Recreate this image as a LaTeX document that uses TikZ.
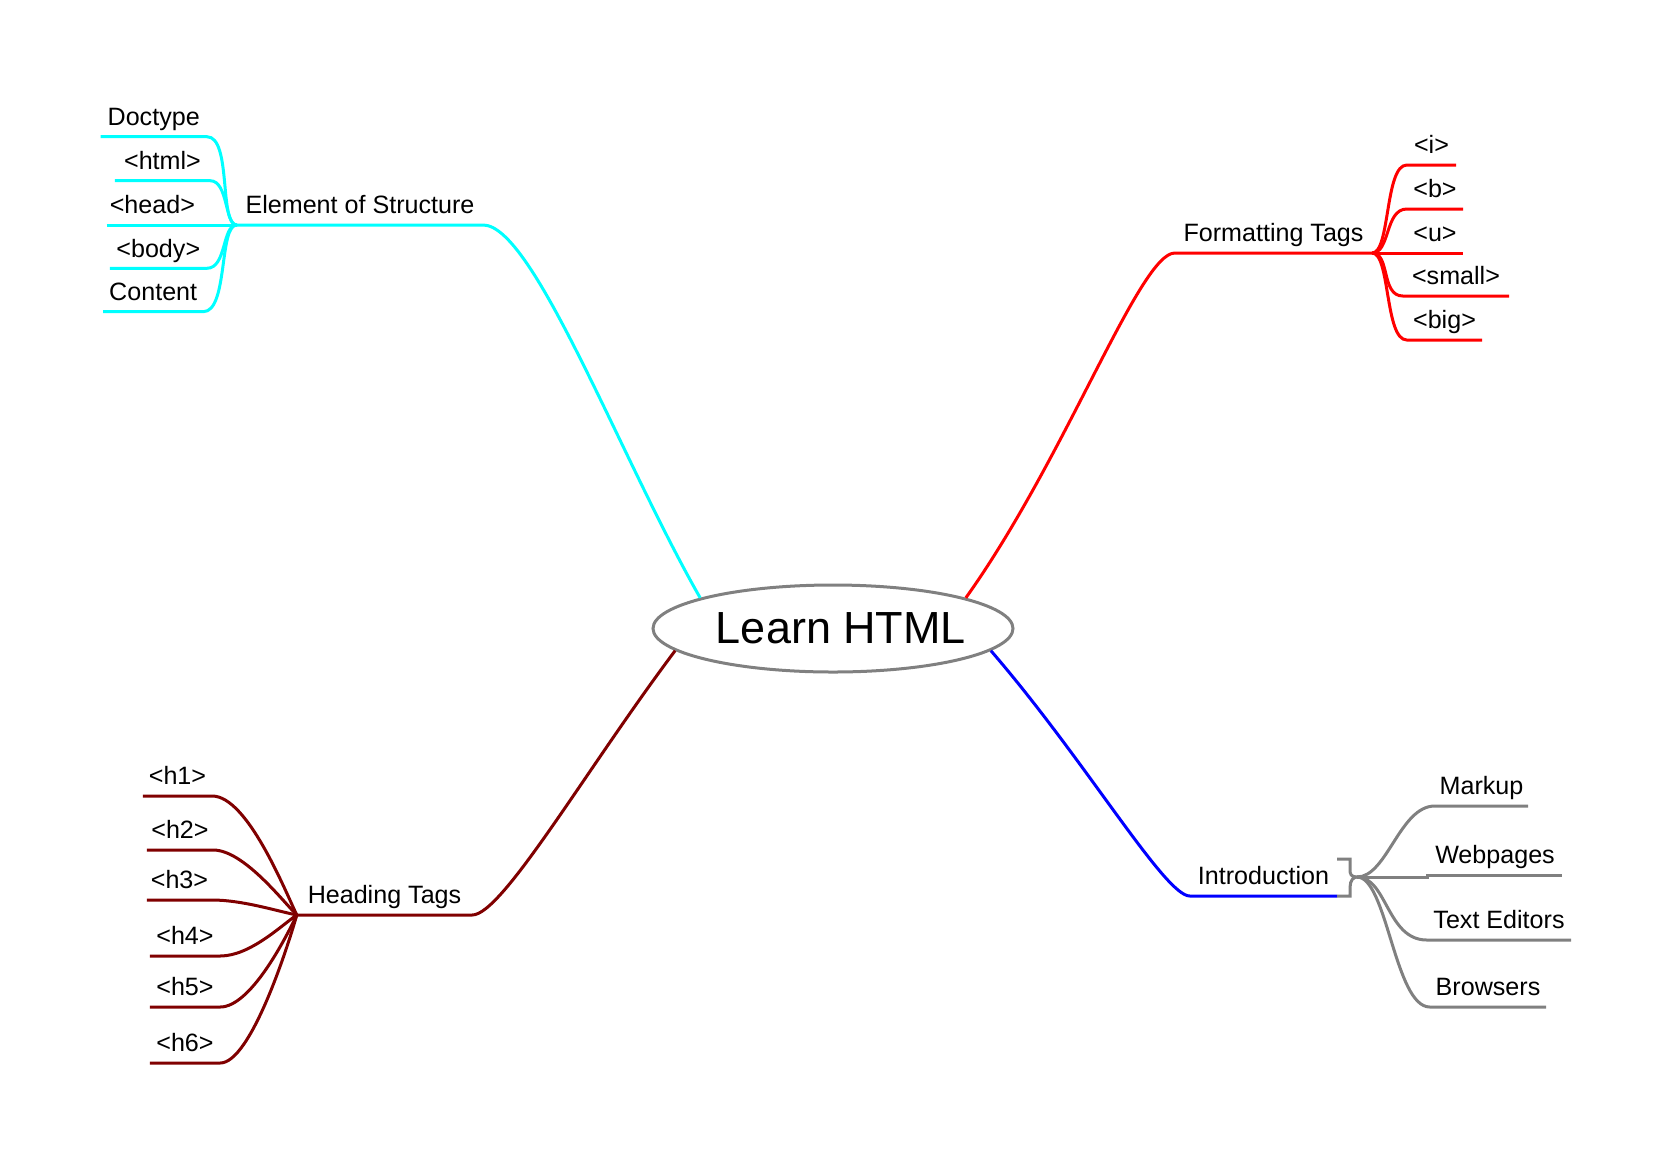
\documentclass[tikz,border=0pt]{standalone}
\usepackage{fontspec}
\setmainfont{Liberation Sans}
\usepackage{tikz}
\usetikzlibrary{shapes}
\definecolor{brcyan}{RGB}{0,255,255}
\definecolor{brred}{RGB}{255,0,0}
\definecolor{brmaroon}{RGB}{128,0,0}
\definecolor{brblue}{RGB}{0,0,255}
\definecolor{brgray}{RGB}{128,128,128}

\begin{document}
\begin{tikzpicture}[
    x=1pt, y=-1pt,
    root/.style={ellipse, draw=brgray, line width=3pt, minimum width=360pt, minimum height=87pt, inner sep=0pt},
    title/.style={inner sep=0pt, font=\fontsize{45}{52}\selectfont},
    leaf/.style={anchor=south, inner xsep=0pt, inner ysep=5pt, text height=18pt, text depth=6pt, minimum width=#1, font=\fontsize{25.1}{29}\selectfont},
    branch/.style={line width=3pt, draw=#1}
]
    \useasboundingbox (0,0) rectangle (1672,1163);

    \node[root] (html) at (833,628.5) {};
    \node[title] (ttl) at (841,628.5) {Learn HTML};

    \node[leaf=246pt] (eos) at (360,225) {Element of Structure};
    \node[leaf=197pt] (fmt) at (1273.5,253) {Formatting Tags};
    \node[leaf=175pt] (hdg) at (384.5,915) {Heading Tags};
    \node[leaf=147pt] (intro) at (1263.5,896) {Introduction};

    \node[leaf=106pt] (doc) at (153.7,136.7) {Doctype};
    \node[leaf=95pt] (htm) at (162.5,180.7) {<html>};
    \node[leaf=91.3pt] (head) at (152.4,225) {<head>};
    \node[leaf=96.7pt] (body) at (158.3,268.3) {<body>};
    \node[leaf=99.7pt] (cont) at (153.2,311.7) {Content};

    \node[leaf=49pt] (ti) at (1431.5,165) {<i>};
    \node[leaf=56pt] (tb) at (1435,209) {<b>};
    \node[leaf=56pt] (tu) at (1435,253) {<u>};
    \node[leaf=106pt] (tsmall) at (1456,296) {<small>};
    \node[leaf=75pt] (tbig) at (1444.5,340) {<big>};

    \node[leaf=69pt] (h1) at (177.5,796) {<h1>};
    \node[leaf=66pt] (h2) at (180,850) {<h2>};
    \node[leaf=65pt] (h3) at (179.5,900) {<h3>};
    \node[leaf=70pt] (h4) at (185,956) {<h4>};
    \node[leaf=70pt] (h5) at (185,1007) {<h5>};
    \node[leaf=70pt] (h6) at (185,1063) {<h6>};

    \node[leaf=93pt] (mk) at (1481.5,806) {Markup};
    \node[leaf=134pt] (wp) at (1495,875) {Webpages};
    \node[leaf=144pt] (te) at (1499,940) {Text Editors};
    \node[leaf=116pt] (bro) at (1488,1007) {Browsers};
    \coordinate (ihub) at (1357,877);

    \draw[branch=brcyan] (eos.south west) -- (eos.south east) .. controls +(50,0) and +(-80,-140) .. (html.167);
    \draw[branch=brcyan] (doc.south west) -- (doc.south east) .. controls +(25,0) and +(-18,0) .. (eos.south west);
    \draw[branch=brcyan] (htm.south west) -- (htm.south east) .. controls +(18,0) and +(-12,0) .. (eos.south west);
    \draw[branch=brcyan] (head.south west) -- (eos.south west);
    \draw[branch=brcyan] (body.south west) -- (body.south east) .. controls +(20,0) and +(-15,0) .. (eos.south west);
    \draw[branch=brcyan] (cont.south west) -- (cont.south east) .. controls +(25,0) and +(-18,0) .. (eos.south west);

    \draw[branch=brred] (html.13) .. controls +(100,-140) and +(-35,0) .. (fmt.south west) -- (fmt.south east);
    \draw[branch=brred] (fmt.south east) .. controls +(18,0) and +(-22,0) .. (ti.south west) -- (ti.south east);
    \draw[branch=brred] (fmt.south east) .. controls +(18,0) and +(-22,0) .. (tb.south west) -- (tb.south east);
    \draw[branch=brred] (fmt.south east) -- (tu.south west) -- (tu.south east);
    \draw[branch=brred] (fmt.south east) .. controls +(18,0) and +(-22,0) .. (tsmall.south west) -- (tsmall.south east);
    \draw[branch=brred] (fmt.south east) .. controls +(18,0) and +(-22,0) .. (tbig.south west) -- (tbig.south east);

    \draw[branch=brmaroon] (html.-172) .. controls +(-90,120) and +(30,0) .. (hdg.south east) -- (hdg.south west);
    \draw[branch=brmaroon] (h1.south west) -- (h1.south east) .. controls +(35,0) and +(-12,-25) .. (hdg.south west);
    \draw[branch=brmaroon] (h2.south west) -- (h2.south east) .. controls +(30,0) and +(-15,-15) .. (hdg.south west);
    \draw[branch=brmaroon] (h3.south west) -- (h3.south east) .. controls +(30,0) and +(-20,-4) .. (hdg.south west);
    \draw[branch=brmaroon] (h4.south west) -- (h4.south east) .. controls +(30,0) and +(-15,10) .. (hdg.south west);
    \draw[branch=brmaroon] (h5.south west) -- (h5.south east) .. controls +(30,0) and +(-12,25) .. (hdg.south west);
    \draw[branch=brmaroon] (h6.south west) -- (h6.south east) .. controls +(30,0) and +(-10,35) .. (hdg.south west);

    \draw[branch=brblue] (html.-8) .. controls +(95,110) and +(-25,0) .. (intro.south west) -- (intro.south east);
    \draw[branch=brgray] (intro.south east) -- ++(13,0) -- ++(0,-10) .. controls +(0,-5) and +(-4,0) .. (ihub) .. controls +(-6,0) and +(0,4) .. ++(-7,-7) -- ++(0,-11) -- ++(-13,0);
    \draw[branch=brgray] (ihub) .. controls +(30,0) and +(-35,0) .. (mk.south west) -- (mk.south east);
    \draw[branch=brgray] (ihub) -- (ihub -| wp.south west) -- (wp.south west) -- (wp.south east);
    \draw[branch=brgray] (ihub) .. controls +(30,0) and +(-40,0) .. (te.south west) -- (te.south east);
    \draw[branch=brgray] (ihub) .. controls +(30,0) and +(-35,0) .. (bro.south west) -- (bro.south east);
\end{tikzpicture}
\end{document}
